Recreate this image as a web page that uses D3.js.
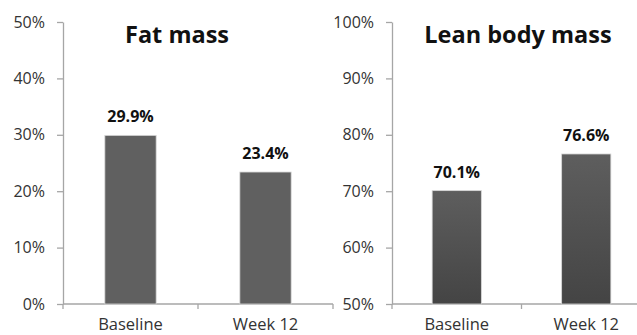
<!DOCTYPE html>
<html>
<head>
<meta charset="utf-8">
<script src="https://cdn.jsdelivr.net/npm/d3@7"></script>
<style>
  html, body { margin: 0; padding: 0; background: #fff; }
  svg { display: block; font-family: "Open Sans", sans-serif; }
</style>
</head>
<body>
<svg id="chart" width="637" height="335"></svg>
<script>
// Body composition before and after the 12-week programme
const categories = ["Baseline", "Week 12"];
const fatMass = [29.9, 23.4];
const leanMass = [70.1, 76.6];
const fatTicks = [0, 10, 20, 30, 40, 50];
const leanTicks = [50, 60, 70, 80, 90, 100];

const svg = d3.select("#chart");
const defs = svg.append("defs");
const grad = defs.append("linearGradient")
  .attr("id", "leanGrad").attr("x1", 0).attr("y1", 0).attr("x2", 0).attr("y2", 1);
grad.append("stop").attr("offset", "0%").attr("stop-color", "#5e5e5e");
grad.append("stop").attr("offset", "100%").attr("stop-color", "#444");

const plotTop = 22, plotBottom = 304;

function panel(opts) {
  const g = svg.append("g");
  const y = d3.scaleLinear().domain(opts.domain).range([plotBottom, plotTop]);
  const x = d3.scaleBand().domain(categories).range([opts.x0, opts.x1])
    .paddingInner(0.62).paddingOuter(0.31);

  // y axis
  const yAxis = d3.axisLeft(y).tickValues(opts.ticks)
    .tickFormat(d => d + "%").tickSize(6).tickPadding(12).tickSizeOuter(0);
  const ya = g.append("g").attr("transform", `translate(${opts.x0},0)`).call(yAxis);
  ya.select(".domain").attr("stroke", "#a6a6a6").attr("stroke-width", 1.3);
  ya.selectAll(".tick line").attr("stroke", "#a6a6a6").attr("stroke-width", 1.3);
  ya.selectAll(".tick text").attr("fill", "#333").style("font-size", "16px")
    .attr("font-family", "'Open Sans', sans-serif");

  // x axis baseline with category separators
  const xa = g.append("g").attr("transform", `translate(0,${plotBottom})`);
  xa.append("line").attr("x1", opts.x0).attr("x2", opts.x1)
    .attr("stroke", "#a6a6a6").attr("stroke-width", 1.3);
  const seps = [opts.x0, (opts.x0 + opts.x1) / 2, opts.x1];
  xa.selectAll("line.sep").data(seps).join("line").attr("class", "sep")
    .attr("x1", d => d).attr("x2", d => d).attr("y1", 0).attr("y2", 5)
    .attr("stroke", "#a6a6a6").attr("stroke-width", 1.3);
  xa.selectAll("text").data(categories).join("text")
    .attr("x", d => x(d) + x.bandwidth() / 2).attr("y", 26)
    .attr("text-anchor", "middle").attr("fill", "#333").style("font-size", "16.5px")
    .text(d => d);

  // bars
  g.selectAll("rect.bar").data(opts.values).join("rect").attr("class", "bar")
    .attr("x", (d, i) => x(categories[i]))
    .attr("width", x.bandwidth())
    .attr("y", d => y(d))
    .attr("height", d => plotBottom - y(d))
    .attr("fill", opts.fill)
    .attr("stroke", "#d8d8d8").attr("stroke-width", 0.8);

  // value labels
  g.selectAll("text.val").data(opts.values).join("text").attr("class", "val")
    .attr("x", (d, i) => x(categories[i]) + x.bandwidth() / 2)
    .attr("y", d => y(d) - 13)
    .attr("text-anchor", "middle").attr("font-weight", "bold")
    .attr("fill", "#111").style("font-size", "16px")
    .text(d => d.toFixed(1) + "%");

  // panel title
  g.append("text").attr("x", opts.titleX).attr("y", 43)
    .attr("text-anchor", "middle").attr("font-weight", "bold")
    .attr("fill", "#111").style("font-size", "23.5px")
    .text(opts.title);
}

panel({ x0: 63, x1: 333, domain: [0, 50], ticks: fatTicks, values: fatMass,
        fill: "#606060", title: "Fat mass", titleX: 177 });
panel({ x0: 392, x1: 651, domain: [50, 100], ticks: leanTicks, values: leanMass,
        fill: "url(#leanGrad)", title: "Lean body mass", titleX: 518 });
</script>
</body>
</html>
